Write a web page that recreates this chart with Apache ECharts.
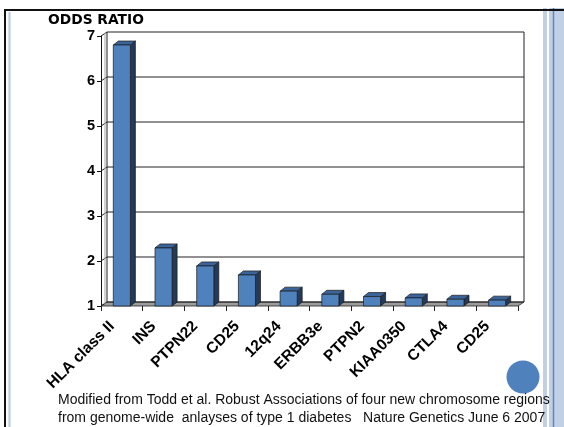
<!DOCTYPE html>
<html>
<head>
<meta charset="utf-8">
<style>
  html, body { margin: 0; padding: 0; background: #fff; }
  #chart { width: 564px; height: 427px; }
</style>
<script src="https://cdn.jsdelivr.net/npm/echarts@6/dist/echarts.min.js"></script>
</head>
<body>
<div id="chart"></div>
<script>
// Odds ratios of type 1 diabetes susceptibility regions
const categories = ['HLA class II', 'INS', 'PTPN22', 'CD25', '12q24', 'ERBB3e', 'PTPN2', 'KIAA0350', 'CTLA4', 'CD25'];
const oddsRatios = [6.8, 2.29, 1.89, 1.69, 1.33, 1.26, 1.21, 1.18, 1.15, 1.13];
const yTicks = [1, 2, 3, 4, 5, 6, 7];
const axisTitle = 'ODDS RATIO';
const captionLines = [
  'Modified from Todd et al. Robust Associations of four new chromosome regions',
  'from genome-wide  anlayses of type 1 diabetes   Nature Genetics June 6 2007'
];

// 3D depth of the back wall and of the bars
const WALL_DX = 6, WALL_DY = -4;
const BAR_DX = 5, BAR_DY = -4;

const chart = echarts.init(document.getElementById('chart'), null, { renderer: 'canvas' });

function renderWalls(params, api) {
  const cs = params.coordSys;
  const L = cs.x, R = cs.x + cs.width;
  const base = api.coord([0, yTicks[0]])[1];
  const top = api.coord([0, yTicks[yTicks.length - 1]])[1];
  const children = [];
  // floor
  children.push({
    type: 'polygon',
    shape: { points: [[L, base], [R, base], [R + WALL_DX, base + WALL_DY], [L + WALL_DX, base + WALL_DY]] },
    style: { fill: '#9c9c9c', stroke: '#222', lineWidth: 0.8 }
  });
  // back wall grid lines and side wall diagonals
  yTicks.forEach(function (t) {
    const y = api.coord([0, t])[1];
    children.push({
      type: 'line',
      shape: { x1: L + WALL_DX, y1: y + WALL_DY, x2: R + WALL_DX, y2: y + WALL_DY },
      style: { stroke: '#222', lineWidth: 1 }
    });
    children.push({
      type: 'line',
      shape: { x1: L, y1: y, x2: L + WALL_DX, y2: y + WALL_DY },
      style: { stroke: '#222', lineWidth: 1 }
    });
  });
  // wall edges
  children.push({
    type: 'line',
    shape: { x1: L + WALL_DX, y1: top + WALL_DY, x2: L + WALL_DX, y2: base + WALL_DY },
    style: { stroke: '#222', lineWidth: 1 }
  });
  children.push({
    type: 'line',
    shape: { x1: L + WALL_DX - 2, y1: top + WALL_DY + 1, x2: L + WALL_DX - 2, y2: base + WALL_DY + 2 },
    style: { stroke: '#aaa', lineWidth: 1 }
  });
  children.push({
    type: 'line',
    shape: { x1: R + WALL_DX, y1: top + WALL_DY, x2: R + WALL_DX, y2: base + WALL_DY },
    style: { stroke: '#222', lineWidth: 1 }
  });
  return { type: 'group', children: children };
}

function renderBar(params, api) {
  const x = api.value(0), v = api.value(1);
  const p0 = api.coord([x, yTicks[0]]);
  const p1 = api.coord([x, v]);
  const bw = api.size([1, 0])[0] * 0.41;
  const x0 = p0[0] - bw / 2, x1 = x0 + bw;
  const yb = p0[1], yt = p1[1];
  const edge = { stroke: '#1a1a1a', lineWidth: 0.7 };
  return {
    type: 'group',
    children: [
      {
        type: 'polygon',
        shape: { points: [[x1, yt], [x1 + BAR_DX, yt + BAR_DY], [x1 + BAR_DX, yb + BAR_DY], [x1, yb]] },
        style: Object.assign({ fill: '#243a5a' }, edge)
      },
      {
        type: 'polygon',
        shape: { points: [[x0, yt], [x0 + BAR_DX, yt + BAR_DY], [x1 + BAR_DX, yt + BAR_DY], [x1, yt]] },
        style: Object.assign({ fill: '#3b659a' }, edge)
      },
      {
        type: 'rect',
        shape: { x: x0, y: yt, width: bw, height: yb - yt },
        style: Object.assign({ fill: '#4f81bd' }, edge)
      }
    ]
  };
}

const option = {
  animation: false,
  backgroundColor: '#ffffff',
  grid: { left: 101, right: 46, top: 36, bottom: 121, containLabel: false },
  xAxis: {
    type: 'category',
    data: categories,
    boundaryGap: true,
    axisLine: { show: false },
    axisTick: { show: true, length: 5, interval: 0, lineStyle: { color: '#222', width: 1 } },
    axisLabel: {
      interval: 0,
      rotate: 45,
      margin: 8,
      padding: [0, 14, 0, 0],
      color: '#000',
      fontFamily: 'Liberation Sans',
      fontWeight: 'bold',
      fontSize: 15.5
    },
    splitLine: { show: false }
  },
  yAxis: {
    type: 'value',
    min: 1,
    max: 7,
    interval: 1,
    axisLine: { show: true, lineStyle: { color: '#111', width: 1 } },
    axisTick: { show: true, length: 4, lineStyle: { color: '#111', width: 1 } },
    axisLabel: {
      margin: 6,
      color: '#000',
      fontFamily: 'Liberation Sans',
      fontWeight: 'bold',
      fontSize: 14.5
    },
    splitLine: { show: false }
  },
  series: [
    {
      type: 'custom',
      z: 1,
      clip: false,
      silent: true,
      renderItem: renderWalls,
      data: [[0, yTicks[0]]]
    },
    {
      type: 'custom',
      z: 3,
      clip: false,
      renderItem: renderBar,
      encode: { x: 0, y: 1 },
      data: oddsRatios.map(function (v, i) { return [i, v]; })
    }
  ],
  graphic: [
    // slide frame
    { type: 'rect', shape: { x: 543, y: 8, width: 21, height: 419 }, style: { fill: '#c2d0e6' }, silent: true },
    { type: 'rect', shape: { x: 547, y: 8, width: 2, height: 419 }, style: { fill: '#ffffff' }, silent: true },
    { type: 'line', shape: { x1: 553.5, y1: 8, x2: 553.5, y2: 427 }, style: { stroke: '#5f84c0', lineWidth: 1.5 }, silent: true },
    { type: 'line', shape: { x1: 4, y1: 10, x2: 564, y2: 10 }, style: { stroke: '#111', lineWidth: 2 }, silent: true },
    { type: 'line', shape: { x1: 5, y1: 10, x2: 5, y2: 427 }, style: { stroke: '#111', lineWidth: 2 }, silent: true },
    { type: 'line', shape: { x1: 9.5, y1: 12, x2: 9.5, y2: 427 }, style: { stroke: '#b7c8e6', lineWidth: 2 }, silent: true },
    // axis title
    {
      type: 'text', left: 48, top: 13, silent: true,
      style: { text: axisTitle, fill: '#000', font: 'bold 13.8px "DejaVu Sans"' }
    },
    // decorative circle
    { type: 'circle', shape: { cx: 523, cy: 377, r: 16.5 }, style: { fill: '#4f81bd' }, silent: true },
    // caption
    {
      type: 'text', left: 58, top: 393, silent: true,
      style: { text: captionLines[0], fill: '#111', font: '14px "Liberation Sans"' }
    },
    {
      type: 'text', left: 58, top: 411, silent: true,
      style: { text: captionLines[1], fill: '#111', font: '14px "Liberation Sans"' }
    }
  ]
};

chart.setOption(option);
</script>
</body>
</html>
